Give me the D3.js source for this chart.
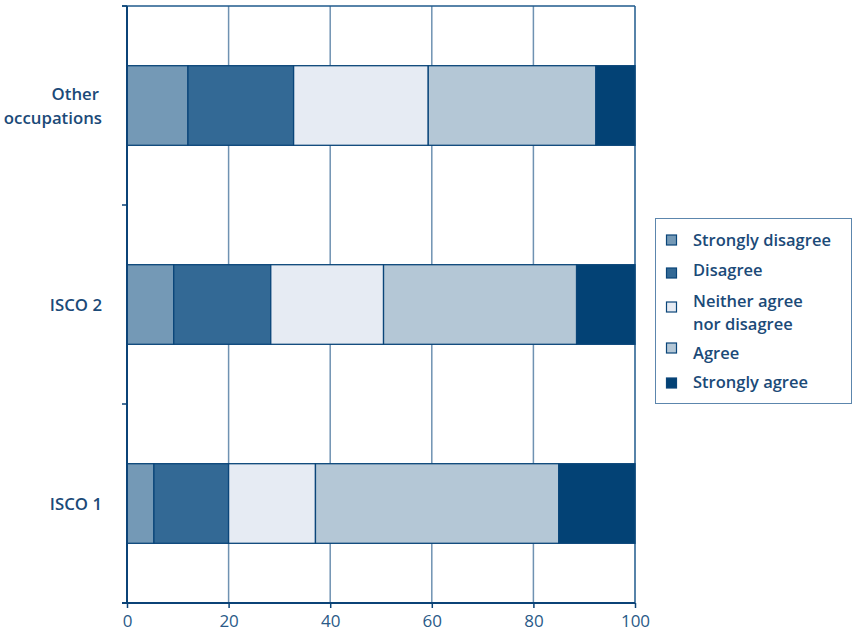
<!DOCTYPE html>
<html><head><meta charset="utf-8">
<script src="https://cdn.jsdelivr.net/npm/d3@7"></script>
<style>
body{margin:0;background:#fff;}
svg text{font-family:"Open Sans",sans-serif;}
</style></head>
<body><svg id="c" width="854" height="634"></svg>
<script>
const categories = ["Other occupations", "ISCO 2", "ISCO 1"];
const seriesNames = ["Strongly disagree", "Disagree", "Neither agree nor disagree", "Agree", "Strongly agree"];
const stronglyDisagree = [12.0, 9.2, 5.3];
const disagree = [20.8, 19.1, 14.7];
const neither = [26.5, 22.2, 17.1];
const agree = [33.0, 38.0, 47.9];
const stronglyAgree = [7.7, 11.5, 15.0];
const xTicks = [0, 20, 40, 60, 80, 100];
const colors = ["#7499b6", "#336995", "#e6ebf3", "#b4c7d6", "#034275"];

const seriesVals = [stronglyDisagree, disagree, neither, agree, stronglyAgree];
const rows = categories.map((c, i) => {
  const o = {cat: c};
  seriesNames.forEach((s, j) => o[s] = seriesVals[j][i]);
  return o;
});

const svg = d3.select("#c");
const L = 127, R = 635, T = 6, B = 603;
const x = d3.scaleLinear().domain([0, 100]).range([L, R]);
const y = d3.scaleBand().domain(categories).range([T, B]).paddingInner(0.6).paddingOuter(0.3);
const yb = d3.scaleBand().domain(categories).range([T, B]);

// gridlines
svg.append("g").selectAll("line").data(xTicks.slice(1, -1)).join("line")
  .attr("x1", d => x(d)).attr("x2", d => x(d)).attr("y1", T).attr("y2", B)
  .attr("stroke", "#6f92b2").attr("stroke-width", 1.5);
// right edge & top edge
svg.append("line").attr("x1", R).attr("x2", R).attr("y1", T).attr("y2", B)
  .attr("stroke", "#1f5a8c").attr("stroke-width", 1.5);
svg.append("line").attr("x1", L - 5).attr("x2", R).attr("y1", T).attr("y2", T)
  .attr("stroke", "#1f5a8c").attr("stroke-width", 1.5);

// bars
const stack = d3.stack().keys(seriesNames)(rows);
svg.append("g").selectAll("g").data(stack).join("g")
  .attr("fill", (d, i) => colors[i])
  .selectAll("rect").data(d => d).join("rect")
  .attr("x", d => x(d[0])).attr("width", d => x(d[1]) - x(d[0]))
  .attr("y", d => y(d.data.cat)).attr("height", y.bandwidth())
  .attr("stroke", "#0a4579").attr("stroke-width", 1.3);

// left axis
svg.append("line").attr("x1", L).attr("x2", L).attr("y1", T).attr("y2", B)
  .attr("stroke", "#0b4377").attr("stroke-width", 2);
const bounds = [T].concat(categories.map(c => yb(c) + yb.bandwidth()));
svg.append("g").selectAll("line").data(bounds).join("line")
  .attr("x1", L - 5).attr("x2", L).attr("y1", d => d).attr("y2", d => d)
  .attr("stroke", "#0b4377").attr("stroke-width", 1.5);

// category labels
const lab = svg.append("g").selectAll("text").data(categories).join("text")
  .attr("text-anchor", "end")
  .attr("fill", "#1b4a78").attr("font-size", 16.8).attr("font-weight", 600);
lab.each(function(d) {
  const t = d3.select(this);
  const cy = y(d) + y.bandwidth() / 2;
  const parts = d === "Other occupations" ? ["Other", "occupations"] : [d];
  parts.forEach((p, k) => {
    t.append("tspan").attr("x", parts.length > 1 && k === 0 ? 99 : 102)
      .attr("y", cy + 6 + (k - (parts.length - 1) / 2) * 24)
      .text(p);
  });
});

// bottom axis
const xAxis = d3.axisBottom(x).tickValues(xTicks).tickSize(5).tickSizeOuter(0);
const gx = svg.append("g").attr("transform", `translate(0,${B})`).call(xAxis);
gx.select(".domain").attr("stroke", "#0b4377").attr("stroke-width", 2)
  .attr("d", `M${L - 5},0H${R}`);
gx.selectAll(".tick line").attr("stroke", "#0b4377").attr("stroke-width", 1.5);
gx.selectAll(".tick text").attr("font-size", 17).attr("fill", "#2a5a88")
  .attr("font-family", "Open Sans").attr("dy", "0.95em");

// legend
const lg = svg.append("g");
lg.append("rect").attr("x", 655.5).attr("y", 218.5).attr("width", 196).attr("height", 185)
  .attr("fill", "#fff").attr("stroke", "#5c86ad").attr("stroke-width", 1);
const legendRows = [
  {lines: ["Strongly disagree"], ty: 246, sy: 240},
  {lines: ["Disagree"], ty: 276, sy: 273},
  {lines: ["Neither agree", "nor disagree"], ty: 307, sy: 307},
  {lines: ["Agree"], ty: 359, sy: 348},
  {lines: ["Strongly agree"], ty: 388, sy: 383}
];
legendRows.forEach((r, i) => {
  lg.append("rect").attr("x", 666.5).attr("y", r.sy - 5).attr("width", 10).attr("height", 10)
    .attr("fill", colors[i]).attr("stroke", "#0a4579").attr("stroke-width", 1.2);
  const t = lg.append("text").attr("fill", "#1b4a78").attr("font-size", 16.5).attr("font-weight", 600);
  r.lines.forEach((ln, k) => t.append("tspan").attr("x", 693).attr("y", r.ty + k * 23).text(ln));
});
</script></body></html>
